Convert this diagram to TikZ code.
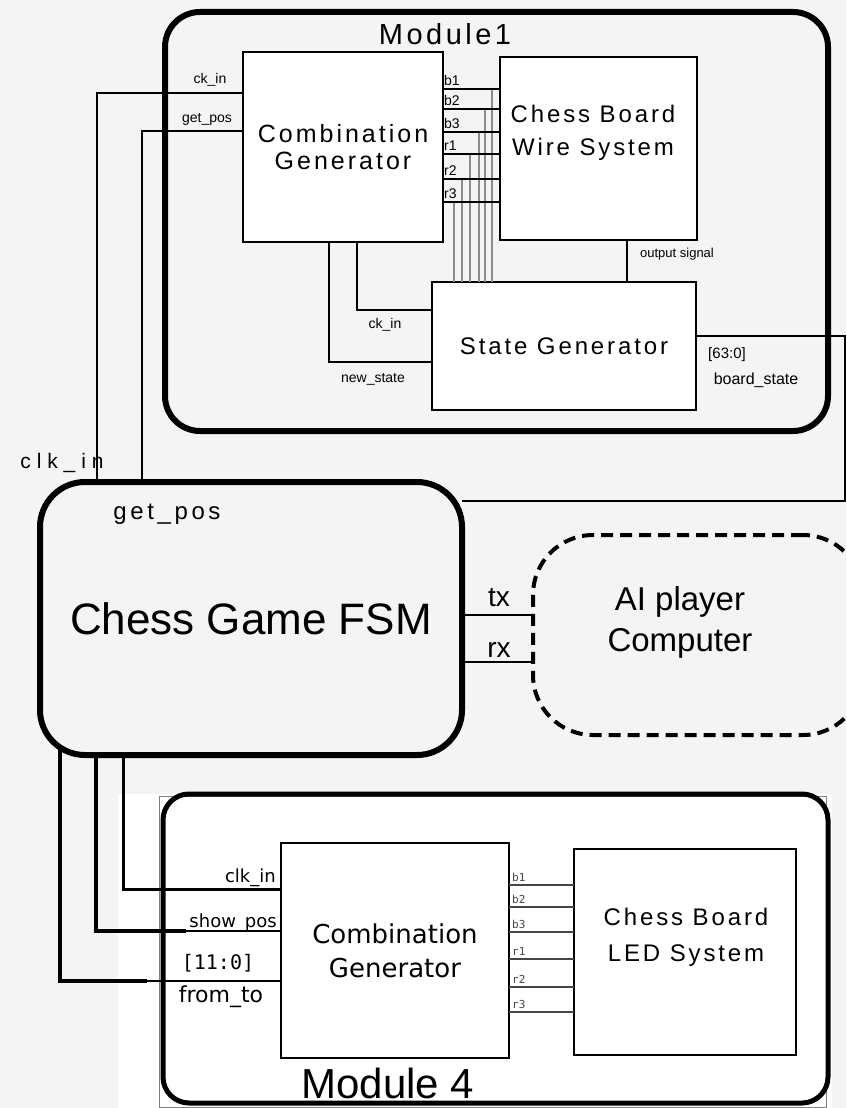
\documentclass[tikz,border=0pt]{standalone}
\usepackage{fontspec}
\usepackage{xcolor}
\usepackage{tikz}
\usetikzlibrary{calc}
\setmainfont{Liberation Sans}
\newfontfamily\spacedfont[LetterSpace=12]{Liberation Sans}
\newfontfamily\widefont[LetterSpace=28]{Liberation Sans}
\newfontfamily\posfont[LetterSpace=15]{Liberation Sans}
\newfontfamily\ledfont{DejaVu Sans}
\newfontfamily\busfont{DejaVu Sans Mono}
\newcommand{\fsz}[2]{\fontsize{#1}{#2}\selectfont}
\definecolor{bggray}{RGB}{244,244,244}
\definecolor{wiregray}{RGB}{140,140,140}
\definecolor{ledgray}{RGB}{70,70,70}

\begin{document}
\begin{tikzpicture}[x=1pt, y=-1pt,
    block/.style={draw, line width=2.5pt, fill=white, inner sep=0pt, outer sep=0pt, align=center, font=\spacedfont\fsz{24}{27}},
    sigwire/.style={line width=2pt},
    greywire/.style={wiregray, line width=2pt},
    ledwire/.style={ledgray, line width=1.8pt},
    portlbl/.style={font=\fsz{14}{14}, inner sep=1pt},
    module/.style={line width=6pt, rounded corners=35pt}]
    \useasboundingbox (0,0) rectangle (846,1108);
    \clip (0,0) rectangle (846,1108);
    \fill[bggray] (0,0) rectangle (846,1108);

    % Module 1
    \draw[module] (165,12) rectangle (828,431);
    \node[font=\spacedfont\fsz{29}{29}] (m1lbl) at (445,34) {Module1};
    \node[block, font=\spacedfont\fsz{25}{27}, minimum width=200pt, minimum height=190pt] (cg) at (343,147) {Combination\\Generator};
    \node[block, minimum width=197pt, minimum height=183pt] (wire) at (598.5,148.5) {};
    \node[font=\spacedfont\fsz{24}{33}, align=center] (wiretxt) at (593,133) {Chess Board\\Wire System};
    \node[block, minimum width=264pt, minimum height=128pt] (sg) at (564,346) {State Generator};

    % bus from combination generator to wire system
    \foreach \dy/\gx/\lab in {37/49/b1, 57/42/b2, 80/36/b3, 102/27/r1, 127/19/r2, 150/11/r3} {
        \draw[greywire] ([shift={(\gx pt,-\dy pt)}]cg.north east) coordinate (g) -- (g |- sg.north);
    }
    \foreach \dy/\lab in {37/b1, 57/b2, 80/b3, 102/r1, 127/r2, 150/r3} {
        \draw[sigwire] ([yshift=-\dy pt]cg.north east) coordinate (w) -- (w -| wire.west);
        \node[portlbl, anchor=south west, yshift=2pt] at (w) {\lab};
    }

    % inner wires
    \draw[sigwire] ([xshift=114pt]cg.south west) |- ([yshift=-28pt]sg.north west);
    \draw[sigwire] ([xshift=86pt]cg.south west) |- ([yshift=-80pt]sg.north west);
    \coordinate (outsig) at ([xshift=127pt]wire.south west);
    \draw[sigwire] (outsig) -- (outsig |- sg.north);
    \node[portlbl, font=\fsz{13}{13}] at (677,254) {output signal};
    \node[portlbl] at (385,325) {ck\_in};
    \node[portlbl] at (373,379) {new\_state};

    % FSM
    \node[draw, line width=6pt, rounded corners=45pt, outer sep=0pt, minimum width=422pt, minimum height=273pt, font=\fsz{44}{44}] (fsm) at (251,618.5) {Chess Game FSM};
    \node[font=\posfont\fsz{24}{24}] at (167,514) {get\_pos};
    \node[font=\widefont\fsz{21}{21}] at (62,463) {clk\_in};

    % wires into module 1
    \draw[line width=2.5pt] ([yshift=-41pt]cg.north west) -| ([xshift=57pt]fsm.north west);
    \draw[line width=2.5pt] ([yshift=-79pt]cg.north west) -| ([xshift=102pt]fsm.north west);
    \node[portlbl] at (210,80) {ck\_in};
    \node[portlbl] at (207,119) {get\_pos};
    \draw[sigwire] ([yshift=-54pt]sg.north east) -- ++(149,0) |- ([yshift=-19pt]fsm.north east);
    \node[portlbl, font=\fsz{15}{15}] at (727,355) {[63:0]};
    \node[portlbl, font=\fsz{16}{16}] at (756,380) {board\_state};

    % AI player
    \node[draw, dashed, dash pattern=on 12pt off 7pt, line width=4pt, rounded corners=60pt, outer sep=0pt, minimum width=330pt, minimum height=200pt] (ai) at (698,635) {};
    \node[font=\fsz{33}{41}, align=center] (aitxt) at (680,622) {AI player\\Computer};
    \draw[sigwire] ([yshift=-133pt]fsm.north east) coordinate (tx) -- (tx -| ai.west);
    \draw[sigwire] ([yshift=-180pt]fsm.north east) coordinate (rx) -- (rx -| ai.west);
    \node[font=\fsz{28}{28}] at (499,598) {tx};
    \node[font=\fsz{28}{28}] at (499,650) {rx};

    % Module 4
    \fill[white] (118,794) rectangle (832,1108);
    \draw[gray, line width=1pt] (159,796) rectangle (826,1107);
    \draw[line width=5pt, rounded corners=26pt] (163,794) rectangle (828,1103);
    \node[font=\fsz{42}{42}] (m4lbl) at (388,1083) {Module 4};
    \node[block, line width=2.2pt, font=\ledfont\fsz{26}{34}, minimum width=228pt, minimum height=215pt] (cg2) at (395,950.5) {Combination\\Generator};
    \node[block, line width=2pt, minimum width=222pt, minimum height=206pt] (led) at (685,952) {};
    \node[font=\spacedfont\fsz{24}{36}, align=center] (ledtxt) at (686,937) {Chess Board\\LED System};
    \foreach \dy/\lab in {42/b1, 64/b2, 89/b3, 116/r1, 144/r2, 169/r3} {
        \draw[ledwire] ([yshift=-\dy pt]cg2.north east) coordinate (l) -- (l -| led.west);
        \node[font=\busfont\fsz{11}{11}, text=ledgray, anchor=south west, inner sep=1pt, xshift=2pt, yshift=2pt] at (l) {\lab};
    }

    % wires from FSM to module 4
    \draw[line width=4.5pt] ([shift={(20pt,10pt)}]fsm.south west) |- ([shift={(-134pt,-138pt)}]cg2.north west) coordinate (ft);
    \draw[sigwire] (ft) -- ([yshift=-138pt]cg2.north west);
    \draw[line width=4pt] ([shift={(56pt,2pt)}]fsm.south west) |- ([shift={(-95pt,-88pt)}]cg2.north west) coordinate (sp);
    \draw[sigwire] (sp) -- ([yshift=-88pt]cg2.north west);
    \draw[line width=3pt] ([shift={(83pt,2pt)}]fsm.south west) |- ([yshift=-46pt]cg2.north west);
    \node[font=\ledfont\fsz{18}{18}, anchor=base east, inner sep=0pt] at (276,882) {clk\_in};
    \node[font=\ledfont\fsz{18}{18}, anchor=base east, inner sep=0pt] at (277,927) {show\_pos};
    \node[font=\busfont\fsz{20}{20}] at (218,963) {[11:0]};
    \node[font=\ledfont\fsz{22}{22}] at (221,997) {from\_to};
\end{tikzpicture}
\end{document}
